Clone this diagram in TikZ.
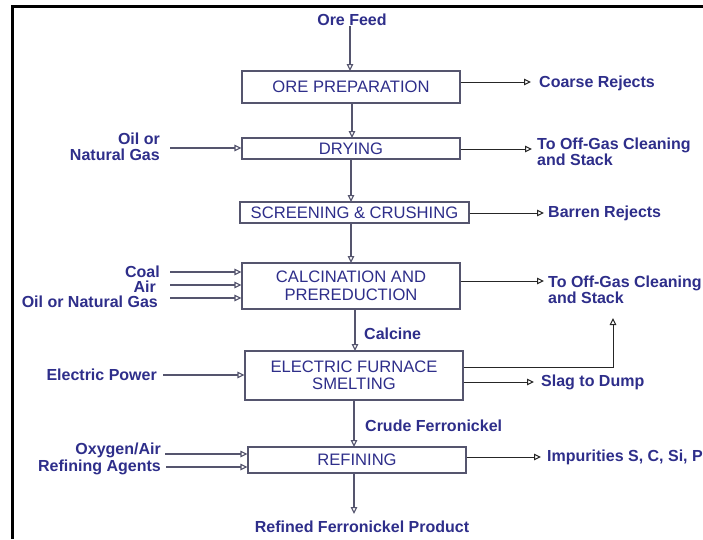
\documentclass[tikz,border=0pt]{standalone}
\usepackage{fontspec}
\setmainfont{Liberation Sans}
\usetikzlibrary{arrows.meta}
\definecolor{txtblue}{RGB}{46,46,138}
\definecolor{boxgray}{RGB}{85,85,110}
\begin{document}
\begin{tikzpicture}[x=1pt,y=-1pt,
  stage/.style={draw=boxgray,line width=1.1pt,fill=white,inner sep=0pt,
    text=txtblue,font=\fontsize{16.6}{17.5}\selectfont,align=center},
  lbl/.style={text=txtblue,font=\fontsize{16}{16}\selectfont\bfseries,inner sep=0pt},
  flow/.style={draw=boxgray,line width=1.1pt,-{Triangle[open,length=7pt,width=6.5pt,fill=white]}},
  side/.style={draw=black!85,line width=1pt,-{Triangle[open,length=7pt,width=6.5pt,fill=white]}}]
\useasboundingbox (0,0) rectangle (703,539);
% outer frame (top and left edges)
\draw[line width=2.6pt] (12.5,539) -- (12.5,6.5) -- (703,6.5);

% process stages
\node[stage,minimum width=218pt,minimum height=32pt] (prep) at (351,87) {ORE PREPARATION};
\node[stage,minimum width=218pt,minimum height=21pt] (dry) at (351,148.5) {DRYING};
\node[stage,minimum width=229pt,minimum height=21pt] (screen) at (354.5,212.5) {SCREENING \& CRUSHING};
\node[stage,minimum width=218pt,minimum height=46pt] (calc) at (351,286) {CALCINATION AND\\PREREDUCTION};
\node[stage,minimum width=218pt,minimum height=49pt] (furn) at (354,375.5) {ELECTRIC FURNACE\\SMELTING};
\node[stage,minimum width=218pt,minimum height=26pt] (refin) at (357,460) {REFINING};

% main stream labels
\node[lbl] (feed) at (352,20) {Ore Feed};
\node[lbl,anchor=west] (calcine) at (364,334) {Calcine};
\node[lbl,anchor=west] (crude) at (365,426) {Crude Ferronickel};
\node[lbl] (prod) at (362,527) {Refined Ferronickel Product};

% main stream arrows
\draw[flow] (feed.south -| 350,0) -- (350,71);
\draw[flow] (352,103) -- (352,138);
\draw[flow] (351,159) -- (351,202);
\draw[flow] (351,223) -- (351,263);
\draw[flow] (355,309) -- (355,351);
\draw[flow] (354,400) -- (354,447);
\draw[flow] (354,473) -- (354,514);

% inputs
\node[lbl,anchor=east,align=right] (oil1) at (160,147) {Oil or\\Natural Gas};
\node[lbl,anchor=east] (coal) at (160,272) {Coal};
\node[lbl,anchor=east] (air) at (156,287) {Air};
\node[lbl,anchor=east] (oil2) at (158,302) {Oil or Natural Gas};
\node[lbl,anchor=east] (power) at (157,375) {Electric Power};
\node[lbl,anchor=east] (oxy) at (161,450.5) {Oxygen/Air};
\node[lbl,anchor=east] (agents) at (161,467.5) {Refining Agents};

\coordinate (i1) at (170,148);
\coordinate (i2) at (170,272);
\coordinate (i3) at (170,285);
\coordinate (i4) at (170,298);
\coordinate (i5) at (163,375);
\coordinate (i6) at (165,454);
\coordinate (i7) at (166,467);
\draw[flow] (i1) -- (i1 -| dry.west);
\draw[flow] (i2) -- (i2 -| calc.west);
\draw[flow] (i3) -- (i3 -| calc.west);
\draw[flow] (i4) -- (i4 -| calc.west);
\draw[flow] (i5) -- (i5 -| furn.west);
\draw[flow] (i6) -- (i6 -| refin.west);
\draw[flow] (i7) -- (i7 -| refin.west);

% outputs
\node[lbl,anchor=west] (coarse) at (539,83) {Coarse Rejects};
\node[lbl,anchor=west,align=left] (gas1) at (537,152) {To Off-Gas Cleaning\\and Stack};
\node[lbl,anchor=west] (barren) at (548,213) {Barren Rejects};
\node[lbl,anchor=west,align=left] (gas2) at (548,289.5) {To Off-Gas Cleaning\\and Stack};
\node[lbl,anchor=west] (slag) at (541,382) {Slag to Dump};
\node[lbl,anchor=west] (imp) at (547,457) {Impurities S, C, Si, P};

\coordinate (o1) at (531,82);
\coordinate (o2) at (532,149);
\coordinate (o3) at (544,213);
\coordinate (o4) at (544,281);
\coordinate (o5) at (613,318);
\coordinate (o6) at (534,382);
\coordinate (o7) at (541,457);
\draw[side] (o1 -| prep.east) -- (o1);
\draw[side] (o2 -| dry.east) -- (o2);
\draw[side] (o3 -| screen.east) -- (o3);
\draw[side] (o4 -| calc.east) -- (o4);
\draw[side] (furn.east |- 0,367) -- (613,367) -- (o5);
\draw[side] (o6 -| furn.east) -- (o6);
\draw[side] (o7 -| refin.east) -- (o7);
\end{tikzpicture}
\end{document}
